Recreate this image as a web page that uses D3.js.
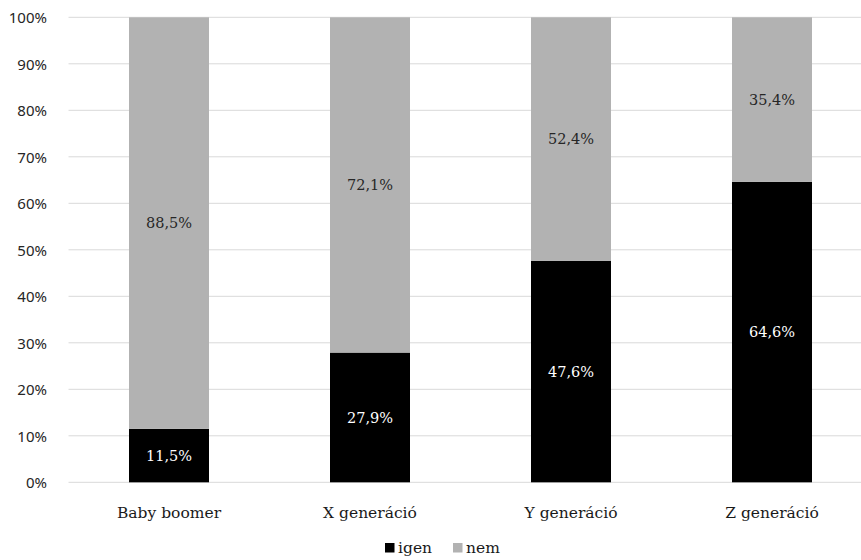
<!DOCTYPE html>
<html>
<head>
<meta charset="utf-8">
<script src="https://cdn.jsdelivr.net/npm/d3@7"></script>
<style>
  html, body { margin: 0; padding: 0; background: #fff; }
  svg { display: block; }
</style>
</head>
<body>
<svg id="chart" width="861" height="560"></svg>
<script>
// Share of respondents answering "igen" / "nem" by generation
const categories = ["Baby boomer", "X generáció", "Y generáció", "Z generáció"];
const igen = [11.5, 27.9, 47.6, 64.6];
const nem = [88.5, 72.1, 52.4, 35.4];
const yTicks = [0, 10, 20, 30, 40, 50, 60, 70, 80, 90, 100];
const seriesNames = ["igen", "nem"];

const serif = "'DejaVu Serif', serif";
const sans = "'Noto Sans', sans-serif";
const colors = { igen: "#000000", nem: "#b2b2b2" };
const labelColors = { igen: "#ffffff", nem: "#262626" };

const svg = d3.select("#chart");
const plot = { left: 68.5, right: 872.5, top: 17.3, bottom: 482.3 };

const x = d3.scaleBand().domain(categories).range([plot.left, plot.right]).paddingInner(0.602).paddingOuter(0.301);
const y = d3.scaleLinear().domain([0, 100]).range([plot.bottom, plot.top]);

// gridlines
svg.append("g").selectAll("line").data(yTicks).join("line")
  .attr("x1", plot.left).attr("x2", 861)
  .attr("y1", d => y(d)).attr("y2", d => y(d))
  .attr("stroke", "#d9d9d9").attr("stroke-width", 1);

// y axis labels
const yAxis = d3.axisLeft(y).tickValues(yTicks).tickFormat(d => d + "%").tickSize(0).tickPadding(0);
const yg = svg.append("g").attr("transform", `translate(${47},0)`).call(yAxis);
yg.select(".domain").remove();
yg.selectAll("text").attr("font-family", sans).attr("font-size", 15).attr("fill", "#262626").attr("dy", "0.35em");

// stacked data
const rows = categories.map((c, i) => ({ cat: c, igen: igen[i], nem: nem[i] }));
const stack = d3.stack().keys(seriesNames)(rows);

const bw = x.bandwidth();
const layers = svg.append("g").selectAll("g").data(stack).join("g")
  .attr("fill", d => colors[d.key]);

layers.selectAll("rect").data(d => d.map(v => ({ key: d.key, v }))).join("rect")
  .attr("x", d => x(d.v.data.cat))
  .attr("width", bw)
  .attr("y", d => y(d.v[1]))
  .attr("height", d => y(d.v[0]) - y(d.v[1]));

// value labels
svg.append("g").selectAll("g").data(stack).join("g")
  .selectAll("text").data(d => d.map(v => ({ key: d.key, v }))).join("text")
  .attr("x", d => x(d.v.data.cat) + bw / 2)
  .attr("y", d => (y(d.v[0]) + y(d.v[1])) / 2)
  .attr("dy", "0.35em")
  .attr("text-anchor", "middle")
  .attr("font-family", serif).attr("font-size", 14.5)
  .attr("fill", d => labelColors[d.key])
  .text(d => d3.format(".1f")(d.v[1] - d.v[0]).replace(".", ",") + "%");

// category axis
const xAxis = d3.axisBottom(x).tickSize(0).tickPadding(0);
const xg = svg.append("g").attr("transform", `translate(0,${513})`).call(xAxis);
xg.select(".domain").remove();
xg.selectAll("text").attr("font-family", serif).attr("font-size", 15.5).attr("fill", "#1a1a1a").attr("dy", "0.35em");

// legend
const legend = svg.append("g");
const legendItems = [{ key: "igen", x: 385 }, { key: "nem", x: 453 }];
legendItems.forEach(it => {
  legend.append("rect").attr("x", it.x).attr("y", 543).attr("width", 9.5).attr("height", 9.5).attr("fill", colors[it.key]);
  legend.append("text").attr("x", it.x + 13).attr("y", 548).attr("dy", "0.35em")
    .attr("font-family", serif).attr("font-size", 15.5).attr("fill", "#1a1a1a").text(it.key);
});
</script>
</body>
</html>
